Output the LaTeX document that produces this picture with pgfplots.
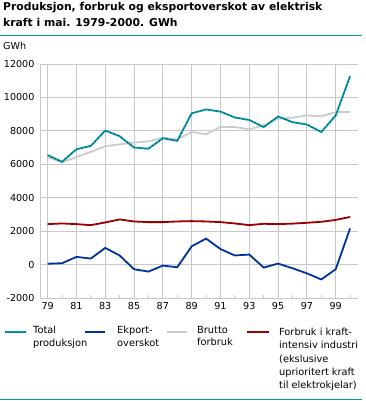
\documentclass[border=0pt]{standalone}
\usepackage{pgfplots}
\pgfplotsset{compat=1.18}
\usepackage{fontspec}
\setmainfont{DejaVu Sans}
\definecolor{teal1}{HTML}{009AA0}
\definecolor{navy1}{HTML}{003399}
\definecolor{grey1}{HTML}{CCCCCC}
\definecolor{red1}{HTML}{990000}
\definecolor{gridc}{HTML}{C8C8C8}
\begin{document}
\begin{tikzpicture}[x=1pt,y=1pt]
\path[use as bounding box] (0,0) rectangle (365,-401);
\begin{axis}[
  at={(40pt,-298pt)}, anchor=south west,
  scale only axis, width=318pt, height=234pt,
  xmin=78.47, xmax=100.55, ymin=-2000, ymax=12000,
  xtick={79,81,...,99}, xticklabels={79,81,83,85,87,89,91,93,95,97,99},
  minor xtick={80,82,...,100},
  ytick={-2000,0,...,12000},
  yticklabel style={xshift=-2pt, /pgf/number format/.cd,1000 sep={},fixed},
  /pgf/number format/assume math mode=true,
  scaled y ticks=false,
  ticklabel style={font=\fontsize{9.6}{10}\selectfont},
  xticklabel style={yshift=-1pt},
  axis x line*=bottom, axis y line*=left,
  axis line style={gridc, line width=0.8pt},
  grid=major, major grid style={gridc, line width=0.9pt},
  major tick length=0pt, minor tick length=3pt,
  minor tick style={gridc, line width=0.8pt},
  xtick pos=bottom, ytick pos=left,
  tick align=inside,
  clip=false,
]
\addplot[grey1, line width=1.8pt] coordinates {
(79,6420)(80,6120)(81,6440)(82,6740)(83,7080)(84,7190)(85,7300)(86,7370)(87,7590)(88,7490)(89,7930)(90,7790)(91,8230)(92,8230)(93,8090)(94,8330)(95,8730)(96,8790)(97,8930)(98,8870)(99,9120)(100,9120)};
\addplot[red1, line width=1.8pt] coordinates {
(79,2420)(80,2460)(81,2420)(82,2360)(83,2520)(84,2700)(85,2580)(86,2540)(87,2540)(88,2580)(89,2600)(90,2580)(91,2540)(92,2460)(93,2360)(94,2440)(95,2420)(96,2450)(97,2500)(98,2560)(99,2670)(100,2850)};
\addplot[navy1, line width=1.8pt] coordinates {
(79,50)(80,80)(81,460)(82,360)(83,1000)(84,545)(85,-280)(86,-420)(87,-60)(88,-160)(89,1090)(90,1555)(91,930)(92,545)(93,600)(94,-180)(95,60)(96,-220)(97,-525)(98,-890)(99,-280)(100,2160)};
\addplot[teal1, line width=1.8pt] coordinates {
(79,6550)(80,6150)(81,6900)(82,7100)(83,8020)(84,7680)(85,7000)(86,6930)(87,7560)(88,7400)(89,9050)(90,9280)(91,9150)(92,8800)(93,8650)(94,8220)(95,8860)(96,8520)(97,8380)(98,7930)(99,8920)(100,11270)};
\addplot[navy1, line width=0.7pt, dash pattern=on 1pt off 3pt] coordinates {
(79,6550)(80,6150)(81,6900)(82,7100)(83,8020)(84,7680)(85,7000)(86,6930)(87,7560)(88,7400)(89,9050)(90,9280)(91,9150)(92,8800)(93,8650)(94,8220)(95,8860)(96,8520)(97,8380)(98,7930)(99,8920)(100,11270)};
\end{axis}
% title
\node[anchor=base west, inner sep=0pt, font=\bfseries\fontsize{10.8}{12}\selectfont] at (3,-11) {Produksjon, forbruk og eksportoverskot av elektrisk};
\node[anchor=base west, inner sep=0pt, font=\bfseries\fontsize{10.8}{12}\selectfont] at (3,-27) {kraft i mai. 1979-2000. GWh};
\draw[teal1, line width=1pt] (0,-36) -- (362,-36);
\node[anchor=base west, inner sep=0pt, font=\fontsize{9.6}{10}\selectfont] at (3,-50) {GWh};
% legend
\begin{scope}[font=\fontsize{9.8}{12.5}\selectfont]
\draw[teal1, line width=1.6pt] (5,-332) -- (26,-332);
\draw[navy1, line width=0.7pt, dash pattern=on 1pt off 3pt] (5,-332) -- (26,-332);
\node[anchor=north west, inner sep=0pt, align=left] at (33,-326) {Total\\produksjon};
\draw[navy1, line width=1.6pt] (85,-332) -- (105,-332);
\node[anchor=north west, inner sep=0pt, align=left] at (117,-326) {Ekport-\\overskot};
\draw[grey1, line width=1.6pt] (167,-332) -- (187,-332);
\node[anchor=north west, inner sep=0pt, align=left] at (197,-326) {Brutto\\forbruk};
\draw[red1, line width=1.6pt] (247,-332) -- (269,-332);
\node[anchor=north west, inner sep=0pt, align=left, font=\fontsize{9.8}{13.3}\selectfont] at (279,-328) {Forbruk i kraft-\\intensiv industri\\(ekslusive\\uprioritert kraft\\til elektrokjelar)};
\end{scope}
\draw[teal1, line width=1pt] (0,-399) -- (362,-399);
\end{tikzpicture}
\end{document}
